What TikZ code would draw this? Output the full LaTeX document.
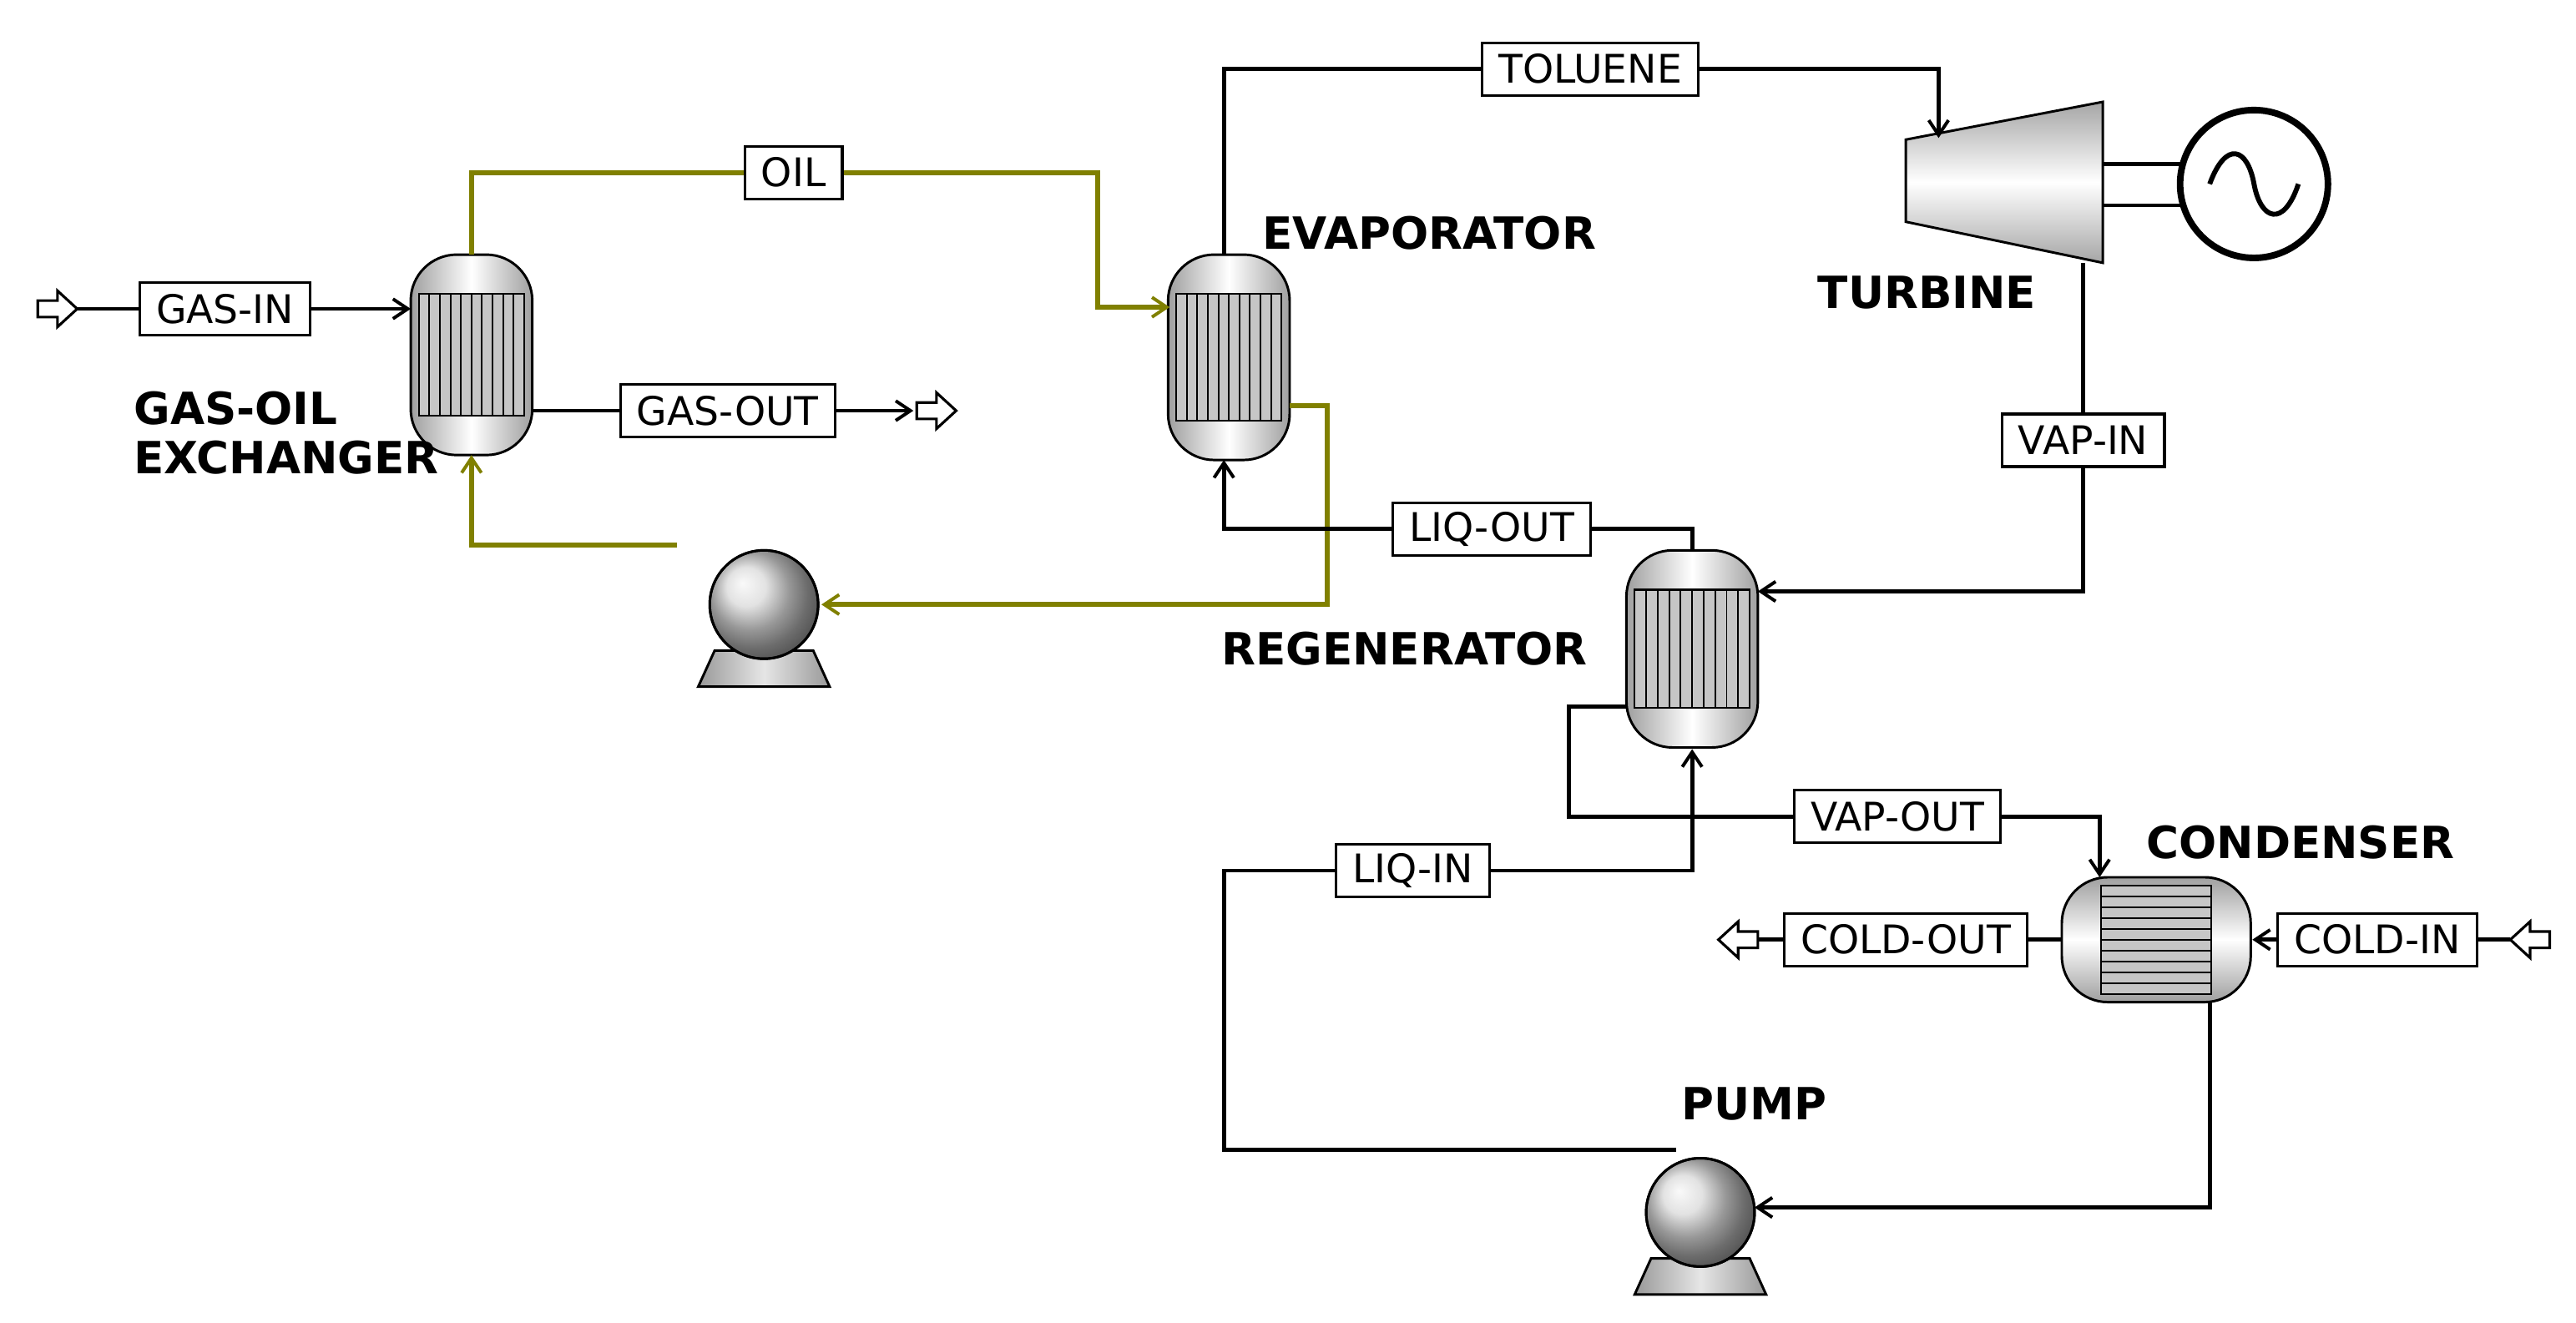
\documentclass[tikz,border=0pt]{standalone}
\usepackage{fontspec}
\setmainfont{DejaVu Sans}
\usetikzlibrary{arrows.meta}
\definecolor{oil}{RGB}{128,128,0}
\tikzset{
 x=1pt,y=-1pt,
 line/.style={line width=2.4pt,black},
 oilline/.style={line width=3pt,oil},
 arr/.style={-{Straight Barb[length=9pt,width=12pt,line width=2pt]}},
 lbl/.style={draw,line width=1.6pt,fill=white,font=\fontsize{24}{26}\selectfont,inner xsep=10pt,inner ysep=3pt,minimum height=32pt},
 title/.style={font=\fontsize{27}{30}\selectfont\bfseries,anchor=west},
 open/.style={draw,line width=1.6pt,fill=white},
 vessel/.style={draw,line width=1.5pt,left color=gray!75,right color=gray!75,middle color=white,shading angle=90},
}
\newcommand\vves[4]{% cx, top, bot, halfwidth
 \path[vessel,rounded corners=28pt] (#1-#4,#2) rectangle (#1+#4,#3);
 \path[draw,line width=1.2pt,fill=gray!45] (#1-#4+5,#2+24) rectangle (#1+#4-5,#3-24);
 \foreach \i in {1,...,9}{\draw[line width=1pt] ({#1-#4+5+\i*(2*#4-10)/10},#2+24) -- ({#1-#4+5+\i*(2*#4-10)/10},#3-24);}
}
\newcommand\hves[4]{% cy, left, right, halfheight
 \path[vessel,rounded corners=28pt,shading angle=0] (#2,#1-#4) rectangle (#3,#1+#4);
 \path[draw,line width=1.2pt,fill=gray!45] (#2+24,#1-#4+5) rectangle (#3-24,#1+#4-5);
 \foreach \i in {1,...,9}{\draw[line width=1pt] (#2+24,{#1-#4+5+\i*(2*#4-10)/10}) -- (#3-24,{#1-#4+5+\i*(2*#4-10)/10});}
}
\newcommand\pmp[2]{%
 \path[draw,line width=1.5pt,left color=gray!80,right color=gray!80,middle color=gray!20,shading angle=90] (#1-30,#2+28) -- (#1-40,#2+50) -- (#1+40,#2+50) -- (#1+30,#2+28) -- cycle;
 \shade[ball color=gray!30,draw,line width=1.5pt] (#1,#2) circle (33);
 \draw[line width=1.5pt] (#1,#2) circle (33);
}
\newcommand\openarr[3]{% x y dir
 \begin{scope}[shift={(#1,#2)},xscale=#3]
 \path[open] (-12,-5) -- (0,-5) -- (0,-11) -- (12,0) -- (0,11) -- (0,5) -- (-12,5) -- cycle;
 \end{scope}}
\begin{document}
\begin{tikzpicture}
\useasboundingbox[fill=white] (0,0) rectangle (1568,805);
% equipment
\vves{287}{155}{277}{37}
\vves{748}{155}{280}{37}
\vves{1030}{335}{455}{40}
\hves{572}{1255}{1370}{38}
\path[draw,line width=1.5pt,top color=gray!70,bottom color=gray!70,middle color=white] (1160,85) -- (1280,62) -- (1280,160) -- (1160,135) -- cycle;
\draw[line width=2.4pt] (1280,100) -- (1328,100) (1280,125) -- (1328,125);
\draw[line width=4pt] (1372,112) circle (45);
\draw[line width=3pt] (1345,112) .. controls (1355,85) and (1368,90) .. (1372,112) .. controls (1376,134) and (1390,139) .. (1399,112);
\pmp{465}{368}
\pmp{1035}{738}
% oil loop
\draw[oilline,arr] (287,155) -- (287,105) -- (668,105) -- (668,187) -- (712,187);
\node[lbl] (oil) at (483,105) {OIL};
\draw[oilline,arr] (785,247) -- (808,247) -- (808,368) -- (500,368);
\draw[oilline,arr] (412,332) -- (287,332) -- (287,277);
% gas
\openarr{35}{188}{1}
\draw[line,arr] (47,188) -- (250,188);
\node[lbl] (gin) at (137,188) {GAS-IN};
\draw[line,arr] (324,250) -- (556,250);
\openarr{570}{250}{1}
\node[lbl] (gout) at (443,250) {GAS-OUT};
% toluene
\draw[line,arr] (745,155) -- (745,42) -- (1180,42) -- (1180,84);
\node[lbl] (tol) at (968,42) {TOLUENE};
% vap-in
\draw[line,arr] (1268,160) -- (1268,360) -- (1070,360);
\node[lbl] (vin) at (1268,268) {VAP-IN};
% liq-out
\draw[line,arr] (1030,335) -- (1030,322) -- (745,322) -- (745,280);
\node[lbl] (lout) at (908,322) {LIQ-OUT};
% vap-out
\draw[line,arr] (990,430) -- (955,430) -- (955,497) -- (1278,497) -- (1278,534);
\node[lbl] (vout) at (1155,497) {VAP-OUT};
% liq-in
\draw[line,arr] (1020,700) -- (745,700) -- (745,530) -- (1030,530) -- (1030,456);
\node[lbl] (lin) at (860,530) {LIQ-IN};
% condenser to pump
\draw[line,arr] (1345,610) -- (1345,735) -- (1068,735);
% cold
\openarr{1540}{572}{-1}
\draw[line,arr] (1528,572) -- (1371,572);
\node[lbl] (cin) at (1447,572) {COLD-IN};
\draw[line] (1255,572) -- (1070,572);
\openarr{1058}{572}{-1}
\node[lbl] (cout) at (1160,572) {COLD-OUT};
% titles
\node[title,align=left,anchor=north west] at (78,235) {GAS-OIL\\EXCHANGER};
\node[title] at (765,142) {EVAPORATOR};
\node[title] at (1103,178) {TURBINE};
\node[title] at (740,395) {REGENERATOR};
\node[title] at (1303,513) {CONDENSER};
\node[title] at (1020,672) {PUMP};
\end{tikzpicture}
\end{document}
